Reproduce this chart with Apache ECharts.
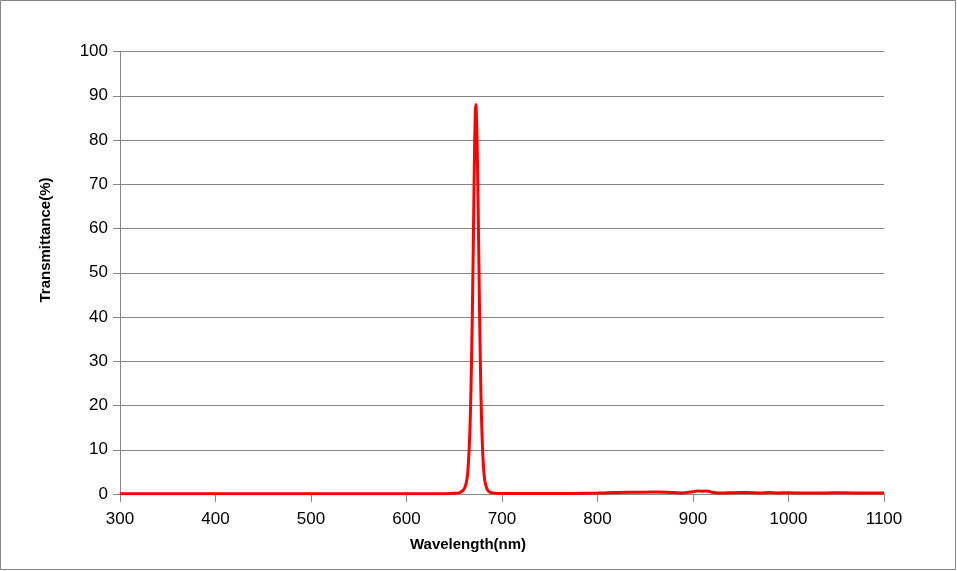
<!DOCTYPE html>
<html>
<head>
<meta charset="utf-8">
<script src="https://cdn.jsdelivr.net/npm/echarts@6/dist/echarts.min.js"></script>
<style>
html,body{margin:0;padding:0;background:#fff;}
#chart{width:957px;height:571px;}
</style>
</head>
<body>
<div id="chart"></div>
<script>
var wavelengths = [300, 400, 500, 600, 640, 650, 655, 658, 660, 662, 664, 666, 667, 668, 669, 670, 671, 672, 672.5, 673, 674, 675, 676, 677, 678, 679, 680, 681, 682, 684, 686, 690, 700, 750, 800, 820, 840, 860, 880, 890, 900, 905, 910, 915, 920, 930, 940, 950, 960, 970, 980, 990, 1000, 1020, 1040, 1060, 1080, 1100];
var transmittance = [0.05, 0.05, 0.05, 0.05, 0.08, 0.15, 0.25, 0.6, 1.0, 2.0, 4.5, 12, 19, 29, 42, 57, 74, 86, 88, 87, 79, 65, 49, 34, 22, 14, 8.5, 5, 3, 1.3, 0.6, 0.25, 0.1, 0.1, 0.2, 0.35, 0.4, 0.45, 0.35, 0.25, 0.5, 0.7, 0.6, 0.7, 0.4, 0.2, 0.3, 0.35, 0.3, 0.25, 0.35, 0.25, 0.3, 0.2, 0.25, 0.3, 0.2, 0.2];
var xTicks = [300, 400, 500, 600, 700, 800, 900, 1000, 1100];
var yTicks = [0, 10, 20, 30, 40, 50, 60, 70, 80, 90, 100];

var seriesData = wavelengths.map(function (w, i) { return [w, transmittance[i]]; });

var chart = echarts.init(document.getElementById('chart'), null, {renderer: 'canvas'});
var font = 'Liberation Sans, Arial, sans-serif';
chart.setOption({
  animation: false,
  backgroundColor: '#fff',
  grid: {left: 120, right: 73, top: 51.5, bottom: 77, containLabel: false},
  xAxis: {
    type: 'value', min: xTicks[0], max: xTicks[xTicks.length - 1], interval: 100,
    axisLine: {show: true, lineStyle: {color: '#868686', width: 1}},
    axisTick: {show: true, length: 8, lineStyle: {color: '#868686'}},
    axisLabel: {color: '#000', fontSize: 17, fontFamily: font, margin: 17, formatter: function (v) { return String(v); }},
    splitLine: {show: false}
  },
  yAxis: {
    type: 'value', min: yTicks[0], max: yTicks[yTicks.length - 1], interval: 10,
    axisLine: {show: true, lineStyle: {color: '#868686', width: 1}},
    axisTick: {show: true, length: 7, lineStyle: {color: '#868686'}},
    axisLabel: {color: '#000', fontSize: 17, fontFamily: font, margin: 12, formatter: function (v) { return String(v); }},
    splitLine: {show: true, lineStyle: {color: '#868686', width: 1}}
  },
  graphic: [
    {type: 'rect', shape: {x: 0.5, y: 0.5, width: 955, height: 569}, style: {fill: 'none', stroke: '#868686', lineWidth: 1}, silent: true},
    {type: 'text', x: 46, y: 240, rotation: Math.PI / 2, style: {text: 'Transmittance(%)', font: 'bold 15px ' + font, fill: '#000', textAlign: 'center', textVerticalAlign: 'middle'}},
    {type: 'text', x: 468, y: 545, style: {text: 'Wavelength(nm)', font: 'bold 15px ' + font, fill: '#000', textAlign: 'center', textVerticalAlign: 'middle'}}
  ],
  series: [{
    type: 'line', data: seriesData, smooth: 0.3, showSymbol: false,
    lineStyle: {color: '#ff0000', width: 3}, itemStyle: {color: '#ff0000'}
  }]
});
</script>
</body>
</html>
